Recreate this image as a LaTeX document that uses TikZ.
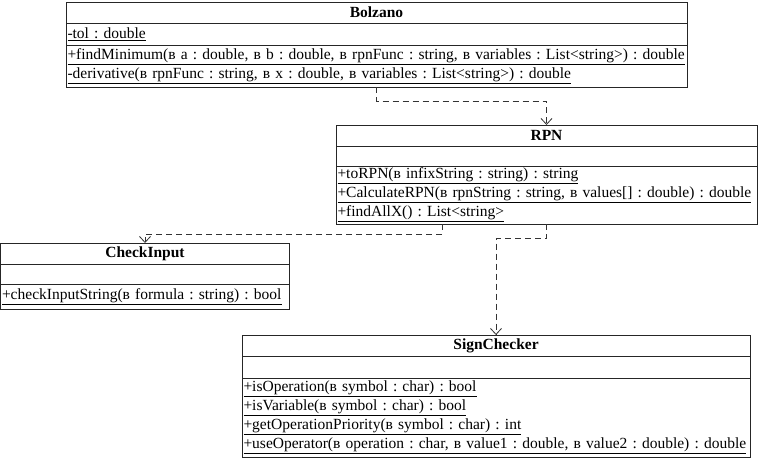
\documentclass[tikz,border=0pt]{standalone}
\usepackage{fontspec}
\setmainfont{Liberation Serif}
\usetikzlibrary{positioning}
\usetikzlibrary{arrows.meta}

\newcommand{\umember}[1]{\underline{#1}}

\begin{document}
\frenchspacing
\begin{tikzpicture}[x=1pt, y=-1pt, >={Straight Barb[length=6pt,width=11pt]}, node distance=0pt]
	\tikzstyle{classhead} = [draw=black!85, line width=0.9pt, outer sep=0pt, anchor=north west, inner sep=0pt, minimum height=21pt, font=\fontsize{15.5}{19}\selectfont\bfseries]
	\tikzstyle{classpart} = [draw=black!85, line width=0.9pt, outer sep=0pt, inner xsep=1.5pt, inner ysep=0pt, align=left, font=\fontsize{15.5}{19}\selectfont]
	\tikzstyle{dep} = [->, draw=black!80, line width=0.8pt, dash pattern=on 6pt off 4pt]
	\useasboundingbox (0,0) rectangle (759,459);

	% Bolzano
	\node[classhead, minimum width=621pt] (bolzanoHead) at (66,2) {Bolzano};
	\node[classpart, text width=618pt, minimum height=22pt, below=of bolzanoHead] (bolzanoAttr) {\umember{-tol : double}};
	\node[classpart, text width=618pt, minimum height=42pt, below=of bolzanoAttr] (bolzanoOps)
		{\umember{+findMinimum(в a : double, в b : double, в rpnFunc : string, в variables : List<string>) : double}\\
		 \umember{-derivative(в rpnFunc : string, в x : double, в variables : List<string>) : double}};

	% RPN
	\node[classhead, minimum width=421pt] (rpnHead) at (336,125) {RPN};
	\node[classpart, text width=418pt, minimum height=20pt, below=of rpnHead] (rpnAttr) {};
	\node[classpart, text width=418pt, minimum height=58pt, below=of rpnAttr] (rpnOps)
		{\umember{+toRPN(в infixString : string) : string}\\
		 \umember{+CalculateRPN(в rpnString : string, в values[] : double) : double}\\
		 \umember{+findAllX() : List<string>}};

	% CheckInput
	\node[classhead, minimum width=289pt] (checkHead) at (0.5,243) {CheckInput};
	\node[classpart, text width=286pt, minimum height=20pt, below=of checkHead] (checkAttr) {};
	\node[classpart, text width=286pt, minimum height=25pt, below=of checkAttr] (checkOps)
		{\umember{+checkInputString(в formula : string) : bool}};

	% SignChecker
	\node[classhead, minimum width=508pt] (signHead) at (242,335) {SignChecker};
	\node[classpart, text width=505pt, minimum height=22pt, below=of signHead] (signAttr) {};
	\node[classpart, text width=505pt, minimum height=79pt, below=of signAttr] (signOps)
		{\umember{+isOperation(в symbol : char) : bool}\\
		 \umember{+isVariable(в symbol : char) : bool}\\
		 \umember{+getOperationPriority(в symbol : char) : int}\\
		 \umember{+useOperator(в operation : char, в value1 : double, в value2 : double) : double}};

	% Dependencies
	\draw[dep] (bolzanoOps.south) -- ++(0,14) -| (rpnHead.north);
	\draw[dep] ([xshift=-104.5pt]rpnOps.south) -- ++(0,10) -| (checkHead.north);
	\draw[dep] (rpnOps.south) -- ++(0,14) -| (signHead.north);
\end{tikzpicture}
\end{document}
